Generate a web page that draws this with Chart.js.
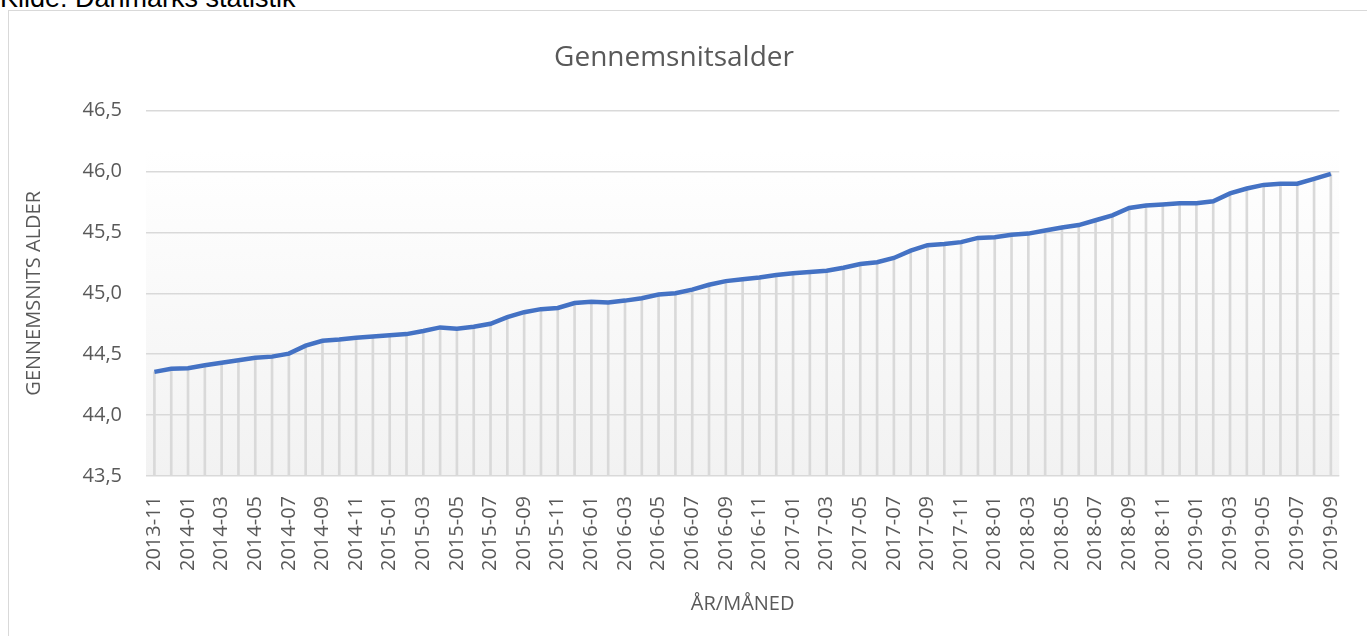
<!DOCTYPE html>
<html>
<head>
<meta charset="utf-8">
<script src="https://cdn.jsdelivr.net/npm/chart.js@4"></script>
<style>
  html, body { margin: 0; padding: 0; background: #fff; overflow: hidden; }
  #wrap { position: relative; width: 1367px; height: 636px; }
  #frame { position: absolute; left: 8px; top: 10px; width: 1370px; height: 640px; border: 1px solid #d9d9d9; box-sizing: border-box; pointer-events: none; }
  #source { position: absolute; left: 0; top: -15px; font-family: "Liberation Sans", Arial, sans-serif; font-size: 27px; line-height: 26px; color: #000; white-space: nowrap; }
  canvas { position: absolute; left: 0; top: 0; }
</style>
</head>
<body>
<div id="wrap">
  <div id="source">Kilde: Danmarks statistik</div>
  <canvas id="ageChart" width="1367" height="636"></canvas>
  <div id="frame"></div>
</div>
<script>
// Months from 2013-11 to 2019-09
const months = [
  '2013-11', '2013-12',
  '2014-01', '2014-02', '2014-03', '2014-04', '2014-05', '2014-06', '2014-07', '2014-08', '2014-09', '2014-10', '2014-11', '2014-12',
  '2015-01', '2015-02', '2015-03', '2015-04', '2015-05', '2015-06', '2015-07', '2015-08', '2015-09', '2015-10', '2015-11', '2015-12',
  '2016-01', '2016-02', '2016-03', '2016-04', '2016-05', '2016-06', '2016-07', '2016-08', '2016-09', '2016-10', '2016-11', '2016-12',
  '2017-01', '2017-02', '2017-03', '2017-04', '2017-05', '2017-06', '2017-07', '2017-08', '2017-09', '2017-10', '2017-11', '2017-12',
  '2018-01', '2018-02', '2018-03', '2018-04', '2018-05', '2018-06', '2018-07', '2018-08', '2018-09', '2018-10', '2018-11', '2018-12',
  '2019-01', '2019-02', '2019-03', '2019-04', '2019-05', '2019-06', '2019-07', '2019-08', '2019-09'
];

// Average age per month
const averageAge = [
  44.355, 44.38,
  44.385, 44.41, 44.43, 44.45, 44.47, 44.48, 44.505, 44.57, 44.61, 44.62, 44.635, 44.645,
  44.655, 44.665, 44.69, 44.72, 44.71, 44.725, 44.75, 44.805, 44.845, 44.87, 44.88, 44.92,
  44.93, 44.925, 44.94, 44.96, 44.99, 45.0, 45.03, 45.07, 45.10, 45.115, 45.13, 45.15,
  45.165, 45.175, 45.185, 45.21, 45.24, 45.255, 45.29, 45.35, 45.395, 45.405, 45.42, 45.455,
  45.46, 45.48, 45.49, 45.515, 45.54, 45.56, 45.60, 45.64, 45.70, 45.72, 45.73, 45.74,
  45.74, 45.755, 45.82, 45.86, 45.89, 45.90, 45.90, 45.94, 45.98
];

const yMin = 43.5;
const yMax = 46.5;
const yStep = 0.5;

const textColor = '#595959';
const gridColor = '#d9d9d9';
const fontFamily = '"Open Sans", "Noto Sans", sans-serif';

// soft grey gradient behind the plot, like the Excel plot area
const plotBackground = {
  id: 'plotBackground',
  beforeDraw(chart) {
    const { ctx, chartArea } = chart;
    const top = chartArea.top + 40;
    const grad = ctx.createLinearGradient(0, top, 0, chartArea.bottom);
    grad.addColorStop(0, '#ffffff');
    grad.addColorStop(1, '#f2f2f2');
    ctx.save();
    ctx.fillStyle = grad;
    ctx.fillRect(chartArea.left, top, chartArea.right - chartArea.left, chartArea.bottom - top);
    ctx.restore();
  }
};

const ctx = document.getElementById('ageChart').getContext('2d');
new Chart(ctx, {
  type: 'line',
  data: {
    labels: months,
    datasets: [{
      type: 'line',
      label: 'Gennemsnitsalder',
      data: averageAge,
      borderColor: '#4472c4',
      borderWidth: 4.5,
      pointRadius: 0,
      tension: 0,
      order: 0
    }, {
      // drop lines from each point to the axis
      type: 'bar',
      label: 'drop',
      data: averageAge.map(v => [yMin, v]),
      backgroundColor: gridColor,
      barThickness: 2,
      order: 1
    }]
  },
  options: {
    responsive: false,
    animation: false,
    layout: { padding: { top: 20, right: 19, left: 0, bottom: 0 } },
    plugins: {
      legend: { display: false },
      tooltip: { enabled: false },
      title: {
        display: true,
        text: 'Gennemsnitsalder',
        color: textColor,
        font: { family: fontFamily, size: 28, weight: 'normal' },
        padding: { top: 21, bottom: 36 }
      }
    },
    scales: {
      x: {
        offset: true,
        grid: { display: false },
        border: { display: false },
        ticks: {
          autoSkip: false,
          minRotation: 90,
          maxRotation: 90,
          padding: 12,
          color: textColor,
          font: { family: fontFamily, size: 20 },
          callback: function(value, index) {
            return index % 2 === 0 ? this.getLabelForValue(value) : '';
          }
        },
        title: {
          display: true,
          text: 'ÅR/MÅNED',
          color: textColor,
          font: { family: fontFamily, size: 20 },
          padding: { top: 4, bottom: 20 }
        },
        afterFit(scale) { scale.height = 160; }
      },
      y: {
        min: yMin,
        max: yMax,
        grid: { color: gridColor, lineWidth: 1.5, drawTicks: false },
        border: { display: false },
        ticks: {
          stepSize: yStep,
          padding: 24,
          color: textColor,
          font: { family: fontFamily, size: 20 },
          callback: v => v.toFixed(1).replace('.', ',')
        },
        title: {
          display: true,
          text: 'GENNEMSNITS ALDER',
          color: textColor,
          font: { family: fontFamily, size: 20 },
          padding: { top: 22, bottom: 0 }
        },
        afterFit(scale) { scale.width = 146; }
      }
    }
  },
  plugins: [plotBackground]
});
</script>
</body>
</html>
